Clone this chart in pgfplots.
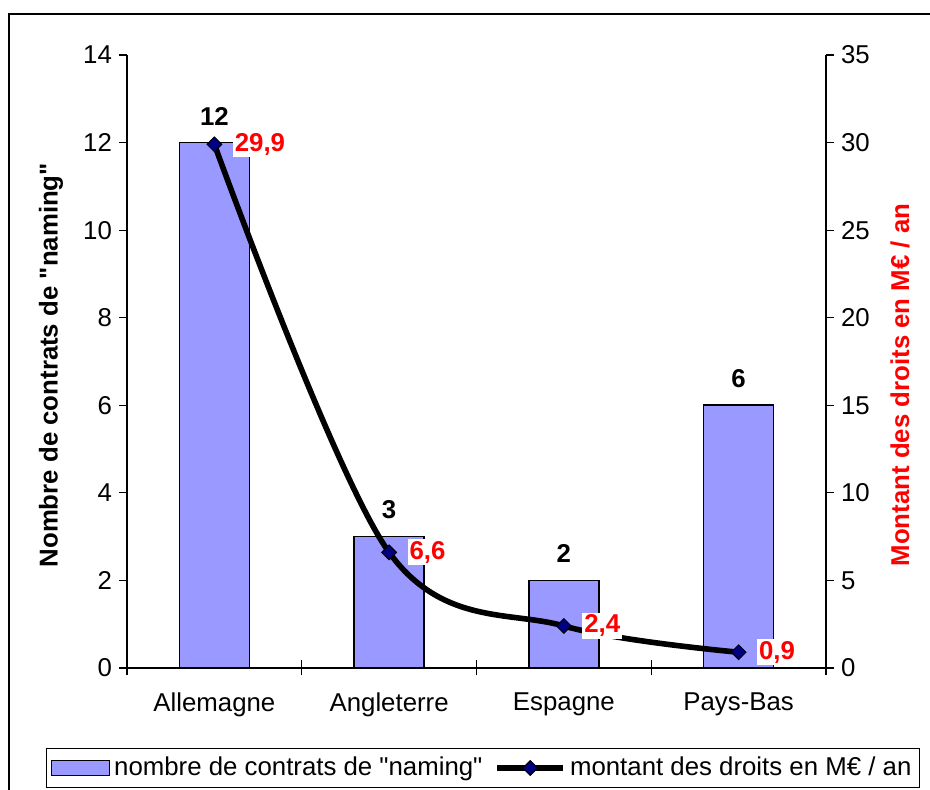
\documentclass[border=0pt]{standalone}
\usepackage{fontspec}
\setmainfont{Liberation Sans}[Ligatures=TeXOff]
\usepackage{pgfplots}
\pgfplotsset{compat=1.18}
\definecolor{barc}{HTML}{9999FF}
\definecolor{navyc}{HTML}{000080}
\newcommand{\fs}{\fontsize{12.9}{15}\selectfont}
\begin{document}
\begin{tikzpicture}[font=\fs]
\useasboundingbox (0,0) rectangle (465pt,395pt);
\draw[line width=1.4pt] (4.5pt,-5pt) |- (470pt,388pt);
\pgfplotsset{
  common/.style={
    at={(63.5pt,61pt)}, anchor=south west,
    scale only axis, width=349.5pt, height=306.5pt,
    xmin=-0.5, xmax=3.5,
    /pgf/number format/assume math mode=true,
    tick label style={font=\fs},
    label style={font=\fs\bfseries},
    axis line style={line width=0.6pt},
    every tick/.style={black, line width=0.6pt},
    ytick align=outside, major tick length=4pt,
  }
}
\begin{axis}[common,
  ymin=0, ymax=14,
  axis y line*=left, axis x line*=bottom,
  ytick={0,2,...,14},
  xtick={0,1,2,3}, xticklabels={Allemagne,Angleterre,Espagne,Pays-Bas},
  major x tick style={draw=none},
  minor xtick={-0.5,0.5,1.5,2.5,3.5},
  xtick align=center, minor tick length=7.5pt,
  xticklabel style={yshift=-7pt},
  ylabel={Nombre de contrats de "naming"},
  ylabel style={at={(axis description cs:-0.1087,0.494)}, anchor=center},
]
\addplot[ybar, bar width=35pt, fill=barc, draw=black, line width=0.8pt,
  nodes near coords,
  nodes near coords style={font=\fs\bfseries, anchor=south, yshift=5pt}]
  coordinates {(0,12) (1,3) (2,2) (3,6)};
\end{axis}
\begin{axis}[common,
  ymin=0, ymax=35,
  axis y line*=right, axis x line=none,
  ytick={0,5,...,35},
  ylabel={\textcolor{red}{Montant des droits en M€ / an}},
  ylabel style={at={(axis description cs:1.106,0.4617)}, anchor=center},
  legend columns=2,
  legend style={at={(axis description cs:0.5093,-0.1631)}, anchor=center,
    draw=black, line width=0.6pt, font=\fs,
    inner xsep=2pt, inner ysep=2.5pt,
    /tikz/every even column/.append style={column sep=4pt}},
]
\addlegendimage{legend image code/.code={\draw[fill=barc, draw=black, line width=0.8pt] (0pt,-3.8pt) rectangle (29pt,3.8pt);}}
\addlegendentry{nombre de contrats de "naming"}
\addplot[smooth, tension=0.55, line width=2.8pt, black,
  mark=square*, mark size=2.6pt,
  mark options={rotate=45, fill=navyc, draw=black, line width=0.5pt},
  point meta=explicit symbolic,
  nodes near coords,
  nodes near coords style={font=\fs\bfseries, text=red, fill=white, inner sep=1pt, anchor=west, xshift=9pt, yshift=0pt},
  legend image code/.code={\draw[black, line width=2.8pt] (0pt,0pt) -- (33pt,0pt);
    \draw[fill=navyc, draw=black, line width=0.5pt, rotate around={45:(16.5pt,0pt)}] (13.9pt,-2.6pt) rectangle (19.1pt,2.6pt);}]
  coordinates {(0,29.9) [29,9] (1,6.6) [6,6] (2,2.4) [2,4] (3,0.9) [0,9]};
\addlegendentry{montant des droits en M€ / an}
\end{axis}
\end{tikzpicture}
\end{document}
